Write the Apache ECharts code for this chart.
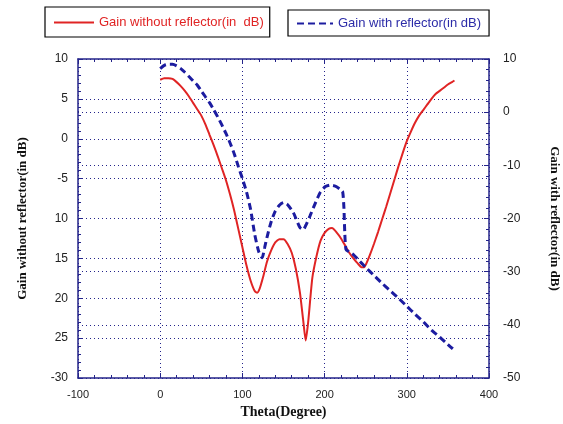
<!DOCTYPE html>
<html>
<head>
<meta charset="utf-8">
<script src="https://cdn.jsdelivr.net/npm/echarts@6/dist/echarts.min.js"></script>
<style>
  html, body { margin: 0; padding: 0; background: #fff; }
  #main { width: 563px; height: 424px; }
</style>
</head>
<body>
<div id="main"></div>
<script>
// 读图得到的数据
var redName = 'Gain without reflector(in  dB)';
var blueName = 'Gain with reflector(in dB)';

var redTheta = [0, 5, 10, 15, 20, 25, 30, 35, 40, 45, 50, 55, 60, 65, 70, 75, 80, 85, 90, 95,
  100, 105, 110, 115, 118, 121, 125, 130, 135, 140, 145, 150, 155, 160, 165, 170, 174, 177, 180, 185,
  190, 195, 200, 205, 209, 215, 220, 225, 230, 235, 240, 245, 248, 251, 255, 260, 265, 270, 275, 280,
  285, 290, 295, 300, 305, 310, 315, 320, 325, 330, 335, 340, 345, 350, 355, 358];
var redGain = [7.4, 7.6, 7.6, 7.5, 7.1, 6.6, 6.0, 5.3, 4.5, 3.7, 2.9, 1.8, 0.5, -0.8, -2.2, -3.7, -5.2, -7.0, -9.0, -11.3,
  -13.6, -15.9, -17.8, -19.1, -19.3, -18.8, -17.4, -15.4, -14.0, -13.0, -12.6, -12.6, -13.2, -14.3, -16.3, -19.3, -22.8, -25.3, -23.0, -17.5,
  -14.8, -12.8, -11.8, -11.3, -11.2, -11.8, -12.5, -13.4, -14.3, -15.0, -15.6, -16.1, -16.1, -15.6, -14.6, -13.2, -11.7, -10.1, -8.5, -6.8,
  -5.1, -3.4, -1.8, -0.3, 0.9, 2.0, 2.9, 3.6, 4.3, 5.0, 5.6, 6.0, 6.4, 6.8, 7.1, 7.3];

var blueTheta = [0, 5, 10, 15, 20, 25, 30, 35, 40, 45, 50, 55, 60, 65, 70, 75, 80, 85, 90, 95,
  100, 105, 110, 115, 120, 124, 127, 130, 135, 140, 145, 150, 155, 162, 170, 174, 178, 182, 189, 195,
  201, 207, 213, 219, 222, 223.5, 224.5, 226, 230, 235, 240, 245, 250, 260, 270, 280, 290, 300, 310, 320,
  330, 340, 350, 356];
var blueGain = [8.2, 8.8, 9.0, 9.0, 8.7, 8.2, 7.5, 6.7, 5.9, 5.1, 4.0, 2.9, 1.8, 0.5, -0.9, -2.4, -4.0, -5.8, -7.8, -10.2,
  -12.5, -15.0, -18.3, -23.0, -26.3, -27.4, -25.5, -23.5, -20.6, -18.6, -17.5, -17.0, -17.4, -18.9, -21.7, -22.1, -21.0, -19.6, -17.0, -15.0,
  -14.0, -13.7, -13.9, -14.5, -15.0, -18.0, -22.5, -25.8, -26.3, -26.8, -27.6, -28.4, -29.2, -30.7, -32.2, -33.6, -35.0, -36.5, -38.0, -39.4,
  -41.0, -42.3, -43.7, -44.5];

// 刻度文字 (按原图, 负号有缺失)
var xTicks = [-100, 0, 100, 200, 300, 400];
var leftTicks = [-30, -25, -20, -15, -10, -5, 0, 5, 10];
var leftTickLabels = ['-30', '25', '20', '15', '10', '-5', '0', '5', '10'];
var rightTicks = [-50, -40, -30, -20, -10, 0, 10];
var rightTickLabels = ['-50', '-40', '-30', '-20', '-10', '0', '10'];

var navy = '#24248a';

function pairs(xs, ys) {
  var out = [];
  for (let i = 0; i < xs.length; i++) {
    out.push([xs[i], ys[i]]);
  }
  return out;
}

let myChart = echarts.init(document.getElementById('main'));

let dotted = { show: true, lineStyle: { color: navy, type: [1, 3], width: 1 } };
let frameLine = { show: true, onZero: false, lineStyle: { color: navy, width: 1.5 } };

let option = {
  backgroundColor: '#fff',
  animation: false,
  legend: [
    {
      data: [redName],
      left: 45, top: 7,
      padding: [9, 6, 8, 8],
      borderColor: '#000', borderWidth: 1.2,
      itemWidth: 40, itemHeight: 10,
      itemStyle: { opacity: 0 },
      textStyle: { color: '#e02424', fontFamily: 'Liberation Sans', fontSize: 13 }
    },
    {
      data: [blueName],
      left: 288, top: 10,
      padding: [7, 8, 6, 8],
      borderColor: '#000', borderWidth: 1.2,
      itemWidth: 36, itemHeight: 10,
      itemStyle: { opacity: 0 },
      textStyle: { color: '#2c2ca8', fontFamily: 'Liberation Sans', fontSize: 13 }
    }
  ],
  grid: { left: 78, right: 74, top: 59, bottom: 46, outerBoundsMode: 'none' },
  xAxis: [
    {
      type: 'value', min: -100, max: 400, interval: 100,
      name: 'Theta(Degree)', nameLocation: 'middle', nameGap: 25,
      nameTextStyle: { fontFamily: 'Liberation Serif', fontWeight: 'bold', fontSize: 14, color: '#111' },
      axisLine: frameLine,
      axisTick: { show: true, inside: true, length: 5, lineStyle: { color: navy } },
      minorTick: { show: true, splitNumber: 5, length: 3, lineStyle: { color: navy } },
      axisLabel: {
        color: '#222', fontFamily: 'Liberation Sans', fontSize: 11, margin: 11,
        formatter: function (v) { return xTicks.indexOf(v) >= 0 ? String(v) : ''; }
      },
      splitLine: dotted
    },
    {
      type: 'value', min: -100, max: 400, interval: 100, position: 'top',
      axisLine: frameLine,
      axisTick: { show: true, inside: true, length: 5, lineStyle: { color: navy } },
      minorTick: { show: true, splitNumber: 5, length: 3, lineStyle: { color: navy } },
      axisLabel: { show: false },
      splitLine: { show: false }
    }
  ],
  yAxis: [
    {
      type: 'value', min: -30, max: 10, interval: 5,
      name: 'Gain without reflector(in dB)', nameLocation: 'middle', nameGap: 49,
      nameTextStyle: { fontFamily: 'Liberation Serif', fontWeight: 'bold', fontSize: 13, color: '#111' },
      axisLine: frameLine,
      axisTick: { show: true, inside: true, length: 5, lineStyle: { color: navy } },
      minorTick: { show: true, splitNumber: 5, length: 3, lineStyle: { color: navy } },
      axisLabel: {
        color: '#222', fontFamily: 'Liberation Sans', fontSize: 12, margin: 10,
        formatter: function (v) {
          let i = leftTicks.indexOf(v);
          return i >= 0 ? leftTickLabels[i] : '';
        }
      },
      splitLine: dotted
    },
    {
      type: 'value', min: -50, max: 10, interval: 10, position: 'right',
      name: 'Gain with reflector(in dB)', nameLocation: 'middle', nameGap: 59, nameRotate: -90,
      nameTextStyle: { fontFamily: 'Liberation Serif', fontWeight: 'bold', fontSize: 13, color: '#111' },
      axisLine: frameLine,
      axisTick: { show: true, inside: true, length: 5, lineStyle: { color: navy } },
      minorTick: { show: true, splitNumber: 5, length: 3, lineStyle: { color: navy } },
      axisLabel: {
        color: '#222', fontFamily: 'Liberation Sans', fontSize: 12, margin: 14,
        formatter: function (v) {
          let i = rightTicks.indexOf(v);
          return i >= 0 ? rightTickLabels[i] : '';
        }
      },
      splitLine: dotted
    }
  ],
  series: [
    {
      name: redName,
      type: 'line',
      xAxisIndex: 0, yAxisIndex: 0,
      symbol: 'none',
      smooth: 0.2,
      lineStyle: { color: '#e02424', width: 2 },
      itemStyle: { color: '#e02424' },
      data: pairs(redTheta, redGain)
    },
    {
      name: blueName,
      type: 'line',
      xAxisIndex: 0, yAxisIndex: 1,
      symbol: 'none',
      smooth: 0.2,
      lineStyle: { color: '#1c1ca0', width: 3, type: [7, 4] },
      itemStyle: { color: '#1c1ca0' },
      data: pairs(blueTheta, blueGain)
    }
  ]
};

myChart.setOption(option);
</script>
</body>
</html>
